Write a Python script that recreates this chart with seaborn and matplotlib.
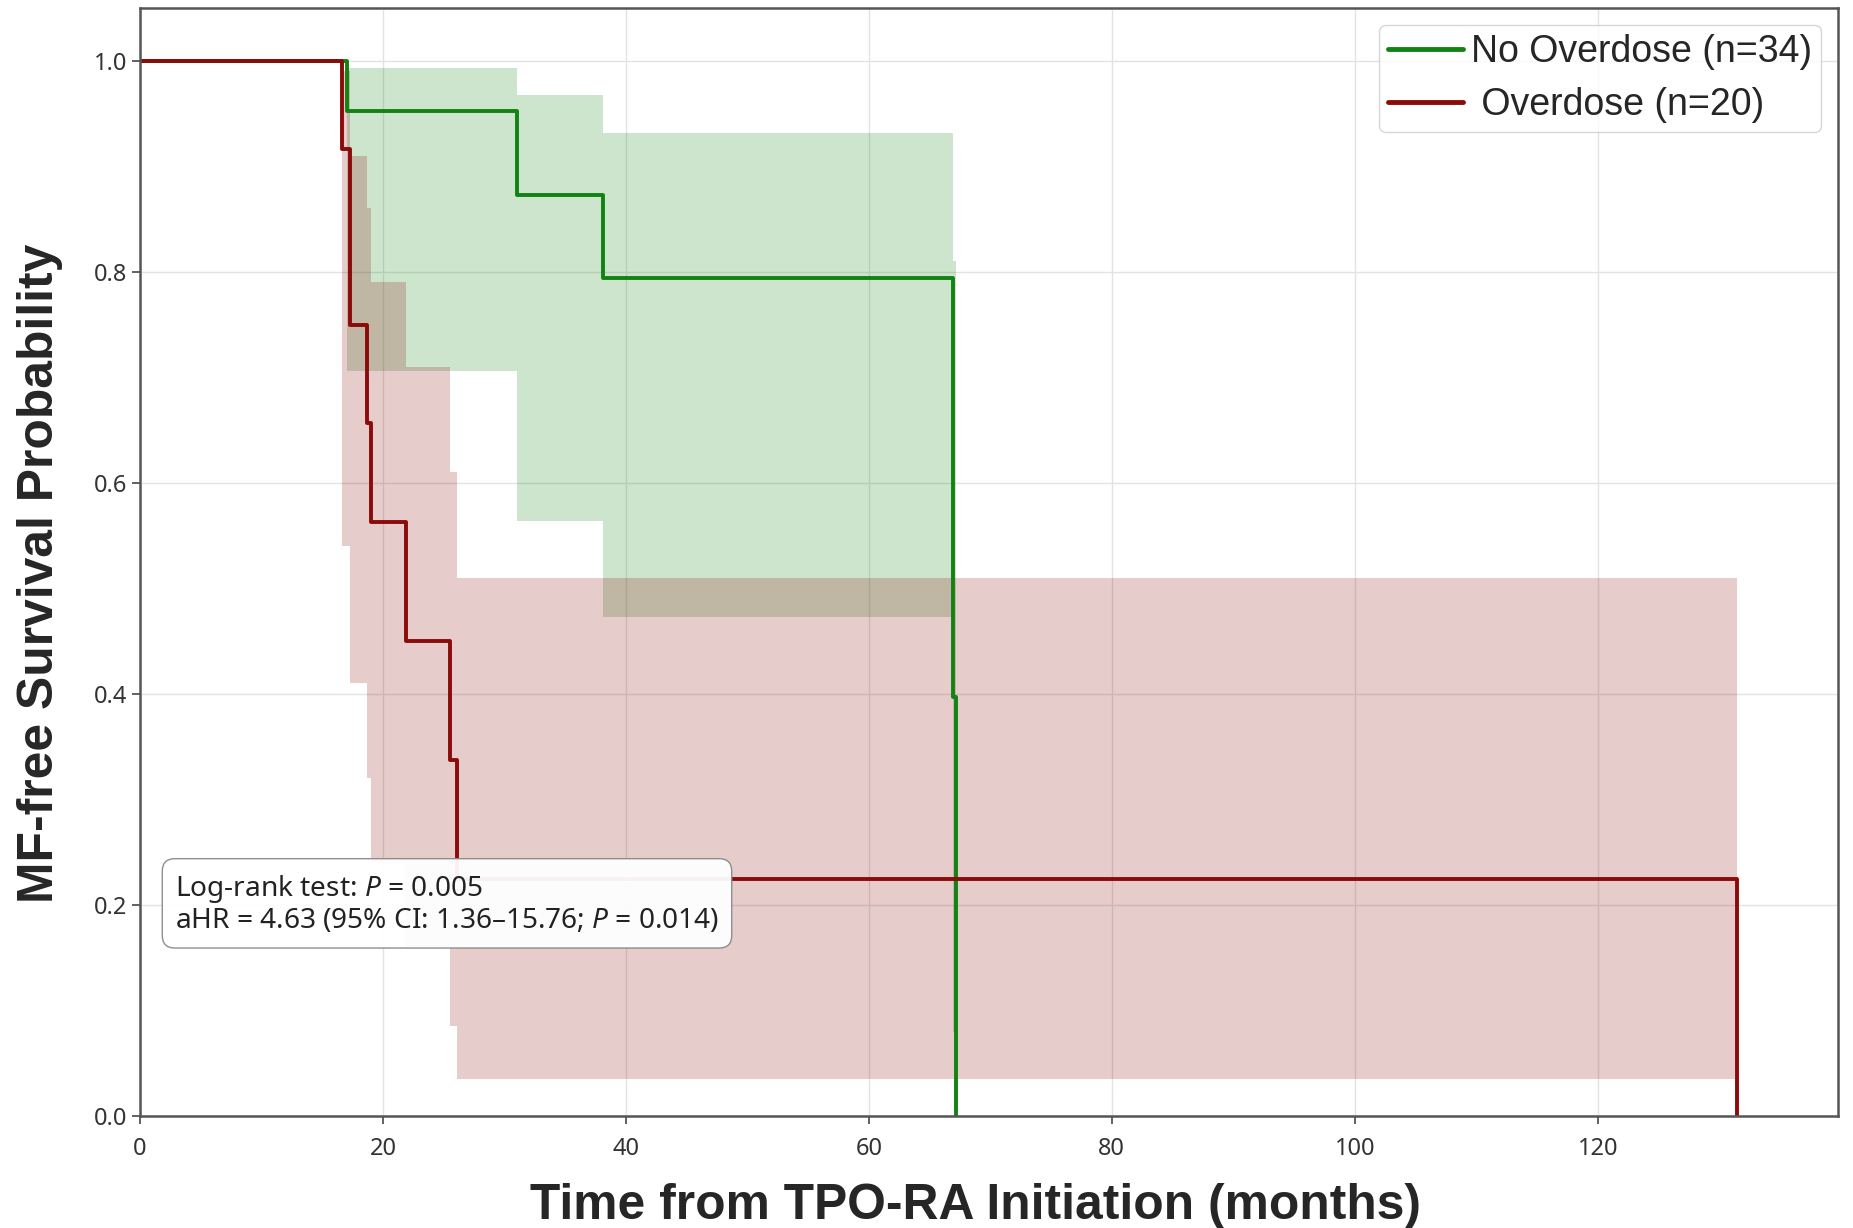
import numpy as np
import pandas as pd
import seaborn as sns
import matplotlib.pyplot as plt

# Kaplan-Meier step values
no_od_time = [0, 17.0, 31.0, 38.1, 66.9, 67.2]
no_od_surv = [1.0, 0.952, 0.873, 0.794, 0.397, 0.0]
no_od_lo = [1.0, 0.706, 0.564, 0.473, 0.08, 0.08]
no_od_hi = [1.0, 0.993, 0.968, 0.932, 0.81, 0.81]

od_time = [0, 16.6, 17.3, 18.7, 19.0, 21.9, 25.5, 26.1, 131.5]
od_surv = [1.0, 0.9167, 0.75, 0.65625, 0.5625, 0.45, 0.3375, 0.225, 0.0]
od_lo = [1.0, 0.54, 0.41, 0.32, 0.24, 0.16, 0.085, 0.035, 0.035]
od_hi = [1.0, 0.99, 0.91, 0.86, 0.79, 0.71, 0.61, 0.51, 0.51]

labels = ["No Overdose (n=34)", " Overdose (n=20)"]
colors = ["#128212", "#8b0a0a"]
fills = ["green", "darkred"]
x_ticks = [0, 20, 40, 60, 80, 100, 120]
y_ticks = [0.0, 0.2, 0.4, 0.6, 0.8, 1.0]

sns.set_style("whitegrid")
plt.rcParams['font.family'] = ['Noto Sans', 'DejaVu Sans']
plt.rcParams['mathtext.fontset'] = 'custom'
plt.rcParams['mathtext.it'] = 'Noto Sans:italic'
plt.rcParams['mathtext.rm'] = 'Noto Sans'

fig, ax = plt.subplots(figsize=(18.53, 12.28), dpi=100)
fig.subplots_adjust(left=0.0756, right=0.992, bottom=0.0912, top=0.9935)

groups = [
    (no_od_time, no_od_surv, no_od_lo, no_od_hi),
    (od_time, od_surv, od_lo, od_hi),
]
for (t, s, lo, hi), lab, c, fc in zip(groups, labels, colors, fills):
    df = pd.DataFrame({"time": t, "surv": s})
    sns.lineplot(data=df, x="time", y="surv", ax=ax, color=c, lw=2.8,
                 drawstyle="steps-post", estimator=None, sort=False, label=lab)
    ax.fill_between(t, lo, hi, step="post", color=fc, alpha=0.2, lw=0)

ax.set_xlim(0, 139.8)
ax.set_ylim(0, 1.05)
ax.set_xticks(x_ticks)
ax.set_yticks(y_ticks)
ax.set_yticklabels([f"{v:.1f}" for v in y_ticks])
ax.tick_params(bottom=True, left=True, length=6, width=1.3, color="#555555",
               labelsize=17, labelcolor="#333333")
ax.tick_params(axis="x", pad=9)
ax.grid(True, color="#e3e3e3", lw=1)
ax.set_axisbelow(True)
for sp in ax.spines.values():
    sp.set_color("#555555")
    sp.set_linewidth(1.8)

ax.set_xlabel("Time from TPO-RA Initiation (months)", fontsize=35.8, fontweight="bold",
              family="Liberation Sans", labelpad=16)
ax.set_ylabel("MF-free Survival Probability", fontsize=35.8, fontweight="bold",
              family="Liberation Sans", labelpad=22)
ax.xaxis.label.set_x(0.492)
ax.yaxis.label.set_y(0.49)

leg = ax.legend(loc="upper right", frameon=True, prop={"family": "Liberation Sans", "size": 27},
                handlelength=2.0, handletextpad=0.2, borderpad=0.25, labelspacing=0.45,
                borderaxespad=0.45)
for line in leg.get_lines():
    line.set_linewidth(3.5)

ax.text(0.0205, 0.163,
        "Log-rank test: $P$ = 0.005\naHR = 4.63 (95% CI: 1.36\u201315.76; $P$ = 0.014)",
        transform=ax.transAxes, fontsize=20.2, va="bottom", ha="left", color="#222222",
        linespacing=1.1,
        bbox=dict(boxstyle="round,pad=0.45", facecolor="white", edgecolor="#888888", alpha=0.95))

fig.savefig("out.png", dpi=100)
